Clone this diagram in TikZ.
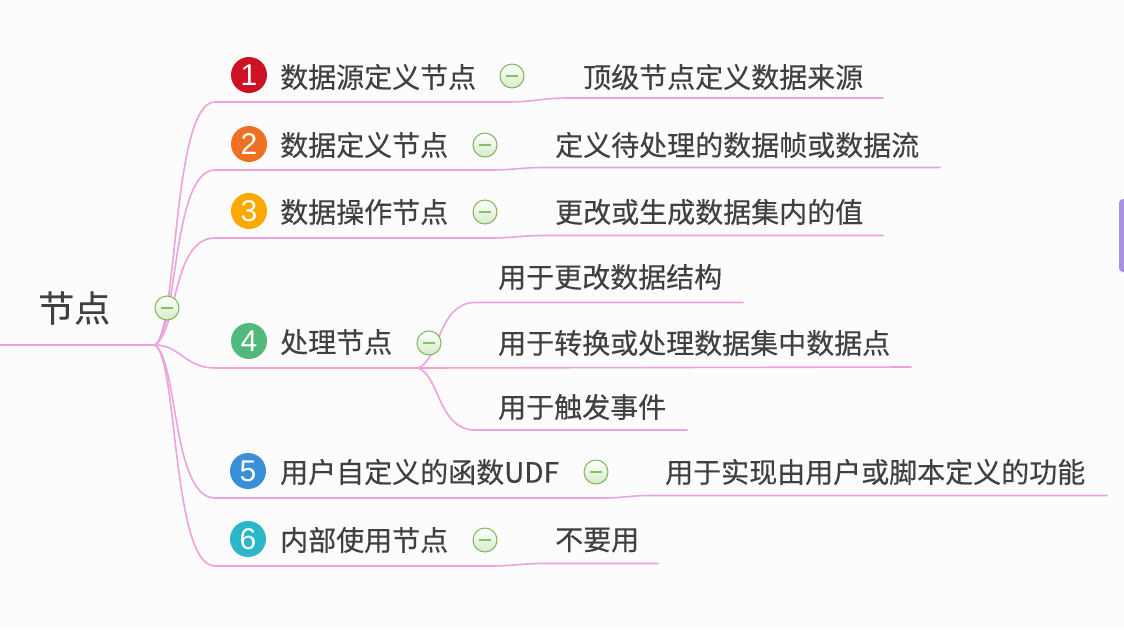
\documentclass[tikz,border=0pt]{standalone}
\usepackage{fontspec}
\setmainfont[FakeBold=0.3]{Noto Sans CJK SC}
\newfontfamily\numfont{Liberation Sans}
\definecolor{bgc}{HTML}{FCFCFC}
\definecolor{linkc}{HTML}{ECA2DC}
\definecolor{txt}{HTML}{404040}
\definecolor{foldb}{HTML}{7DB55A}
\definecolor{foldf}{HTML}{D6EBCB}
\definecolor{foldm}{HTML}{86C164}
\definecolor{ca}{HTML}{CD1223}
\definecolor{cb}{HTML}{EF7024}
\definecolor{cc}{HTML}{FBA900}
\definecolor{cd}{HTML}{52B97D}
\definecolor{ce}{HTML}{3B8FD9}
\definecolor{cf}{HTML}{2CB7C8}
\definecolor{barc}{HTML}{A891E2}
\tikzset{
  conn/.style={draw=linkc, line width=1.6pt, line cap=round},
  badge/.style={circle, fill=#1, minimum size=36pt, inner sep=0pt, text=white,
    font=\numfont\fontsize{30}{30}\selectfont},
  topic/.style={anchor=west, inner sep=0pt, text=txt, font=\fontsize{28}{32}\selectfont},
  roottxt/.style={anchor=west, inner sep=0pt, text=txt, font=\fontsize{36}{40}\selectfont},
  fold/.style={circle, minimum size=24pt, inner sep=0pt, draw=foldb, line width=1pt,
    top color=white, bottom color=foldf,
    path picture={\draw[foldm, line width=1.8pt]
      ([xshift=-6pt]path picture bounding box.center) --
      ([xshift=6pt]path picture bounding box.center);}}
}
\begin{document}
\begin{tikzpicture}[x=1pt,y=-1pt]
\useasboundingbox (0,0) rectangle (1124,630);
\fill[bgc] (0,0) rectangle (1124,630);
\fill[barc, rounded corners=4pt] (1119,199) rectangle (1132,272);

% coordinates
\coordinate (R0) at (0,345);
\coordinate (J) at (155,345);
\coordinate (u1s) at (215,102); \coordinate (u1e) at (505,102);
\coordinate (v1s) at (570,98);  \coordinate (v1e) at (883,98);
\coordinate (u2s) at (215,170); \coordinate (u2e) at (490,170);
\coordinate (v2s) at (545,167.5); \coordinate (v2e) at (940,167.5);
\coordinate (u3s) at (215,238); \coordinate (u3e) at (490,238);
\coordinate (v3s) at (545,235.5); \coordinate (v3e) at (883,235.5);
\coordinate (u4s) at (215,368); \coordinate (K) at (418,368);
\coordinate (v4as) at (475,302.5); \coordinate (v4ae) at (743,302.5);
\coordinate (v4be) at (911,367);
\coordinate (v4cs) at (475,430); \coordinate (v4ce) at (687,430);
\coordinate (u5s) at (215,498); \coordinate (u5e) at (600,498);
\coordinate (v5s) at (650,495.5); \coordinate (v5e) at (1107,495.5);
\coordinate (u6s) at (215,566); \coordinate (u6e) at (490,566);
\coordinate (v6s) at (545,563.5); \coordinate (v6e) at (658,563.5);

% root line and main branches
\draw[conn] (R0) -- (J);
\draw[conn] (J) .. controls (178,330) and (172,102) .. (u1s) -- (u1e);
\draw[conn] (J) .. controls (178,330) and (172,170) .. (u2s) -- (u2e);
\draw[conn] (J) .. controls (178,330) and (172,238) .. (u3s) -- (u3e);
\draw[conn] (J) .. controls (180,345) and (185,368) .. (u4s) -- (K);
\draw[conn] (J) .. controls (178,360) and (172,498) .. (u5s) -- (u5e);
\draw[conn] (J) .. controls (178,360) and (172,566) .. (u6s) -- (u6e);

% topic to child connectors
\draw[conn] (u1e) .. controls (535,102) and (540,98) .. (v1s) -- (v1e);
\draw[conn] (u2e) .. controls (515,170) and (520,167.5) .. (v2s) -- (v2e);
\draw[conn] (u3e) .. controls (515,238) and (520,235.5) .. (v3s) -- (v3e);
\draw[conn] (u5e) .. controls (625,498) and (630,495.5) .. (v5s) -- (v5e);
\draw[conn] (u6e) .. controls (515,566) and (520,563.5) .. (v6s) -- (v6e);
\draw[conn] (K) .. controls (440,360) and (438,302.5) .. (v4as) -- (v4ae);
\draw[conn] (K) -- (v4be);
\draw[conn] (K) .. controls (440,376) and (438,430) .. (v4cs) -- (v4ce);

% root
\node[roottxt] (root) at (38,308) {节点};
\node[fold] (f0) at (167,308) {};

% topics
\node[badge=ca] (b1) at (249,75) {1};
\node[topic] (t1) at (280,77) {数据源定义节点};
\node[fold] (f1) at (512,76) {};
\node[topic] (s1) at (583,77) {顶级节点定义数据来源};

\node[badge=cb] (b2) at (249,144) {2};
\node[topic] (t2) at (280,145) {数据定义节点};
\node[fold] (f2) at (485,145) {};
\node[topic] (s2) at (555,145) {定义待处理的数据帧或数据流};

\node[badge=cc] (b3) at (249,211) {3};
\node[topic] (t3) at (280,212) {数据操作节点};
\node[fold] (f3) at (485,212) {};
\node[topic] (s3) at (555,212) {更改或生成数据集内的值};

\node[badge=cd] (b4) at (249,341) {4};
\node[topic] (t4) at (280,342) {处理节点};
\node[fold] (f4) at (429,343) {};
\node[topic] (s4a) at (498,277) {用于更改数据结构};
\node[topic] (s4b) at (498,343) {用于转换或处理数据集中数据点};
\node[topic] (s4c) at (498,407) {用于触发事件};

\node[badge=ce] (b5) at (248,471) {5};
\node[topic] (t5) at (280,472) {用户自定义的函数UDF};
\node[fold] (f5) at (596,472) {};
\node[topic] (s5) at (665,472) {用于实现由用户或脚本定义的功能};

\node[badge=cf] (b6) at (248,539) {6};
\node[topic] (t6) at (280,540) {内部使用节点};
\node[fold] (f6) at (485,540) {};
\node[topic] (s6) at (555,540) {不要用};
\end{tikzpicture}
\end{document}
